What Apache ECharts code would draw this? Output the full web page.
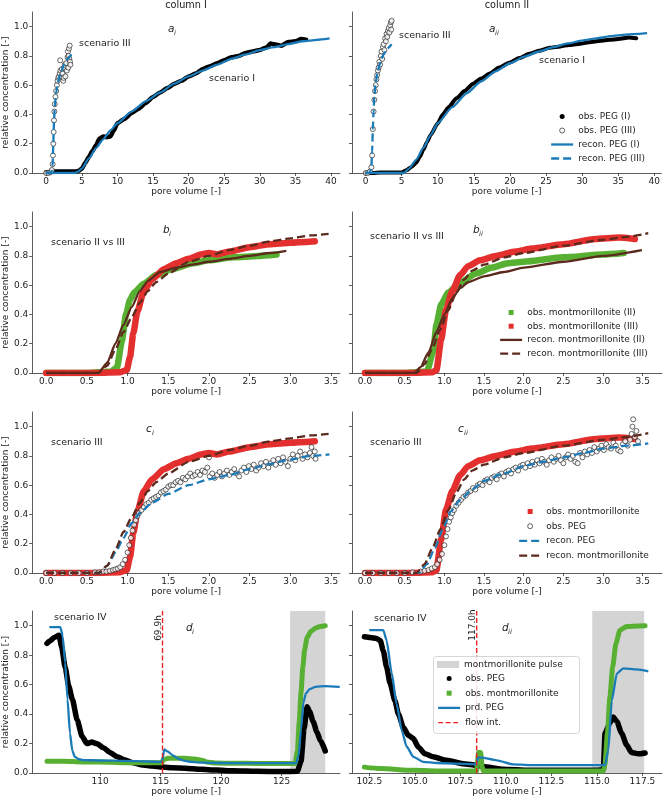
<!DOCTYPE html>
<html>
<head>
<meta charset="utf-8">
<script src="https://cdn.jsdelivr.net/npm/echarts@6/dist/echarts.min.js"></script>
<style>
html,body{margin:0;padding:0;background:#fff;}
#chart{width:663px;height:800px;}
</style>
</head>
<body>
<div id="chart"></div>
<script>
// ---------- data ----------
// panel a : PEG, scenario I and III
var pegObsI_c1 = [[0,0.005],[0.5,0.005],[0.8,0.01],[1.5,0.01],[2.5,0.01],[3.5,0.01],[4.2,0.01],[4.6,0.015],[5,0.03],[5.5,0.07],[6,0.11],[6.5,0.15],[7,0.19],[7.5,0.235],[8,0.25],[8.5,0.245],[9,0.25],[9.5,0.29],[10,0.34],[11,0.37],[12,0.41],[13,0.44],[14,0.48],[15,0.52],[16,0.55],[17,0.58],[18,0.61],[19,0.63],[20,0.66],[21,0.68],[22,0.71],[23,0.73],[24,0.75],[25,0.77],[26,0.79],[27,0.8],[28,0.82],[29,0.83],[30,0.84],[31,0.86],[31.5,0.885],[32,0.88],[33,0.87],[34,0.895],[35,0.9],[35.8,0.915],[36.5,0.91]];
var pegObsIII_c1 = [[0,0],[0.3,0],[0.6,0.005],[0.8,0.02],[0.9,0.06],[0.95,0.12],[1.0,0.2],[1.05,0.28],[1.1,0.36],[1.15,0.42],[1.2,0.47],[1.3,0.52],[1.4,0.56],[1.5,0.6],[1.6,0.63],[1.7,0.65],[1.8,0.66],[1.9,0.68],[1.97,0.77],[2.0,0.7],[2.1,0.66],[2.2,0.71],[2.3,0.68],[2.4,0.63],[2.45,0.65],[2.5,0.72],[2.6,0.74],[2.7,0.66],[2.8,0.75],[2.9,0.7],[3.0,0.79],[3.05,0.83],[3.1,0.72],[3.15,0.8],[3.2,0.85],[3.25,0.78],[3.3,0.87],[3.35,0.76],[3.4,0.74]];
var pegRecI_c1 = [[0,0],[4,0],[4.5,0.01],[5,0.03],[6,0.1],[7,0.17],[8,0.23],[9,0.29],[10,0.34],[12,0.42],[14,0.49],[16,0.55],[18,0.61],[20,0.66],[22,0.7],[24,0.74],[26,0.78],[28,0.81],[30,0.84],[32,0.86],[34,0.88],[36,0.9],[38,0.91],[39.8,0.92]];
var pegRecIII_c1 = [[0,0],[0.7,0],[0.9,0.05],[1.0,0.2],[1.1,0.35],[1.2,0.45],[1.4,0.55],[1.7,0.63],[2.0,0.68],[2.5,0.74],[3.0,0.78],[3.55,0.81]];

var pegObsI_c2 = [[0,0],[1,0],[2,0.003],[3,0.003],[4,0.003],[5,0.003],[5.7,0.02],[6.3,0.04],[7,0.07],[7.5,0.11],[8,0.16],[8.5,0.21],[9,0.26],[10,0.34],[10.7,0.4],[11.5,0.45],[12.6,0.51],[13.7,0.56],[14.9,0.61],[16,0.645],[17.2,0.68],[18.5,0.72],[20,0.755],[21.3,0.785],[22.7,0.815],[24,0.835],[25.5,0.855],[27,0.865],[28.2,0.875],[29.5,0.882],[31,0.893],[32.5,0.903],[33.8,0.91],[35,0.915],[36.5,0.925],[37.5,0.92]];
var pegObsIII_c2 = [[0,0],[0.3,0],[0.6,0.01],[0.8,0.04],[0.9,0.12],[1.0,0.3],[1.1,0.42],[1.2,0.5],[1.3,0.56],[1.4,0.6],[1.5,0.64],[1.6,0.67],[1.7,0.7],[1.8,0.72],[1.9,0.76],[2.0,0.74],[2.1,0.8],[2.2,0.83],[2.3,0.78],[2.4,0.86],[2.5,0.88],[2.6,0.84],[2.7,0.92],[2.8,0.9],[2.9,0.95],[3.0,0.93],[3.1,0.97],[3.2,0.99],[3.3,0.96],[3.4,1.01],[3.5,1.03],[3.55,0.98],[3.6,1.04]];
var pegRecI_c2 = [[0,0],[5.3,0],[6,0.03],[7,0.09],[8,0.17],[9,0.26],[10,0.34],[12,0.45],[14,0.545],[16,0.625],[18,0.695],[20,0.75],[22,0.795],[24,0.83],[26,0.86],[28,0.885],[30,0.905],[32,0.92],[34,0.935],[36,0.945],[39,0.955]];
var pegRecIII_c2 = [[0,0],[0.6,0],[0.8,0.05],[0.9,0.15],[1.0,0.3],[1.1,0.42],[1.2,0.52],[1.4,0.62],[1.7,0.7],[2.0,0.75],[2.5,0.81],[3.0,0.85],[3.6,0.88]];

// panel b : montmorillonite, scenario II and III
var montObsII_c1 = [[0,0],[0.5,0],[0.8,0.01],[0.87,0.04],[0.93,0.22],[0.98,0.4],[1.03,0.5],[1.08,0.55],[1.2,0.61],[1.35,0.67],[1.55,0.71],[1.8,0.75],[2.0,0.77],[2.3,0.79],[2.6,0.8],[2.83,0.81]];
var montObsIII_c1 = [[0,0],[0.5,0],[0.9,0.005],[0.99,0.02],[1.03,0.11],[1.07,0.27],[1.12,0.42],[1.2,0.56],[1.3,0.64],[1.45,0.71],[1.6,0.75],[1.75,0.78],[1.9,0.81],[2.0,0.82],[2.1,0.81],[2.25,0.83],[2.5,0.86],[2.75,0.88],[3.0,0.89],[3.3,0.9]];
var montRecII_c1 = [[0,0],[0.64,0],[0.75,0.07],[0.85,0.2],[0.95,0.33],[1.05,0.45],[1.15,0.56],[1.25,0.63],[1.4,0.69],[1.6,0.72],[1.8,0.74],[2.0,0.76],[2.25,0.78],[2.5,0.8],[2.75,0.82],[2.95,0.835]];
var montRecIII_c1 = [[0,0],[0.64,0],[0.75,0.05],[0.85,0.16],[0.95,0.28],[1.05,0.38],[1.15,0.48],[1.25,0.56],[1.35,0.62],[1.5,0.68],[1.75,0.76],[2.0,0.8],[2.25,0.84],[2.5,0.87],[2.75,0.9],[3.0,0.92],[3.25,0.94],[3.47,0.95]];

var montObsII_c2 = [[0,0],[0.5,0],[0.78,0.01],[0.86,0.15],[0.9,0.33],[0.96,0.47],[1.05,0.55],[1.2,0.62],[1.4,0.68],[1.6,0.72],[1.8,0.75],[2.0,0.76],[2.5,0.79],[3.0,0.81],[3.26,0.82]];
var montObsIII_c2 = [[0,0],[0.5,0],[0.85,0.005],[0.9,0.02],[0.96,0.23],[1.02,0.43],[1.1,0.56],[1.2,0.67],[1.3,0.73],[1.45,0.77],[1.65,0.8],[1.9,0.83],[2.1,0.85],[2.5,0.88],[2.9,0.915],[3.2,0.925],[3.4,0.915]];
var montRecII_c2 = [[0,0],[0.62,0],[0.7,0.04],[0.8,0.14],[0.9,0.28],[1.0,0.4],[1.1,0.51],[1.2,0.58],[1.3,0.62],[1.5,0.66],[1.75,0.69],[2.0,0.72],[2.5,0.76],[3.0,0.8],[3.49,0.84]];
var montRecIII_c2 = [[0,0],[0.65,0],[0.75,0.06],[0.85,0.17],[0.95,0.3],[1.05,0.43],[1.15,0.55],[1.25,0.64],[1.35,0.7],[1.5,0.74],[1.75,0.79],[2.0,0.82],[2.5,0.87],[3.0,0.91],[3.3,0.93],[3.57,0.955]];

// panel c : scenario III, PEG together with montmorillonite
var pegObsC_c1 = [[0.0,0.0],[0.1,0.0],[0.2,0.0],[0.3,0.0],[0.4,0.0],[0.5,0.0],[0.6,0.005],[0.65,0.005],[0.7,0.01],[0.74,0.01],[0.78,0.015],[0.82,0.02],[0.85,0.025],[0.88,0.03],[0.91,0.04],[0.94,0.06],[0.97,0.09],[1.0,0.14],[1.02,0.19],[1.04,0.24],[1.06,0.29],[1.08,0.33],[1.1,0.36],[1.12,0.39],[1.14,0.41],[1.17,0.43],[1.2,0.45],[1.23,0.47],[1.26,0.48],[1.29,0.5],[1.32,0.51],[1.35,0.52],[1.38,0.53],[1.41,0.55],[1.44,0.56],[1.47,0.57],[1.5,0.59],[1.53,0.6],[1.56,0.6],[1.59,0.62],[1.62,0.63],[1.65,0.62],[1.68,0.65],[1.71,0.64],[1.74,0.66],[1.77,0.68],[1.8,0.66],[1.83,0.67],[1.86,0.69],[1.89,0.67],[1.92,0.7],[1.95,0.69],[1.98,0.72],[2.0,0.79],[2.01,0.66],[2.04,0.68],[2.07,0.65],[2.1,0.67],[2.13,0.69],[2.16,0.66],[2.19,0.68],[2.22,0.7],[2.25,0.67],[2.28,0.69],[2.31,0.71],[2.34,0.68],[2.37,0.66],[2.4,0.7],[2.43,0.72],[2.46,0.69],[2.49,0.73],[2.52,0.71],[2.55,0.74],[2.58,0.7],[2.61,0.72],[2.64,0.75],[2.67,0.73],[2.7,0.76],[2.73,0.72],[2.76,0.75],[2.79,0.77],[2.82,0.74],[2.85,0.78],[2.88,0.75],[2.91,0.79],[2.94,0.76],[2.97,0.73],[3.0,0.78],[3.03,0.81],[3.06,0.77],[3.09,0.8],[3.12,0.83],[3.15,0.78],[3.18,0.81],[3.21,0.79],[3.24,0.82],[3.26,0.86],[3.28,0.8],[3.3,0.83],[3.31,0.78]];
var pegRecC_c1 = [[0,0],[0.65,0],[0.75,0.05],[0.85,0.14],[0.95,0.24],[1.05,0.34],[1.15,0.41],[1.3,0.48],[1.5,0.54],[1.75,0.6],[2.0,0.64],[2.25,0.67],[2.5,0.71],[2.75,0.745],[3.0,0.775],[3.25,0.8],[3.48,0.81]];

var pegObsC_c2 = [[0.0,0.0],[0.1,0.0],[0.2,0.0],[0.3,0.0],[0.4,0.0],[0.5,0.0],[0.6,0.005],[0.7,0.01],[0.75,0.015],[0.8,0.02],[0.84,0.03],[0.88,0.04],[0.91,0.06],[0.94,0.09],[0.97,0.13],[1.0,0.19],[1.02,0.25],[1.04,0.3],[1.06,0.35],[1.08,0.38],[1.1,0.41],[1.12,0.43],[1.15,0.46],[1.18,0.48],[1.21,0.5],[1.24,0.52],[1.27,0.53],[1.3,0.55],[1.33,0.56],[1.36,0.58],[1.39,0.57],[1.42,0.6],[1.45,0.61],[1.48,0.6],[1.51,0.63],[1.54,0.64],[1.57,0.62],[1.6,0.65],[1.63,0.66],[1.66,0.64],[1.69,0.67],[1.72,0.68],[1.75,0.66],[1.78,0.69],[1.81,0.7],[1.84,0.68],[1.87,0.71],[1.9,0.72],[1.93,0.7],[1.96,0.73],[1.99,0.74],[2.02,0.72],[2.05,0.75],[2.08,0.73],[2.11,0.76],[2.14,0.74],[2.17,0.77],[2.2,0.75],[2.23,0.78],[2.26,0.76],[2.29,0.74],[2.32,0.77],[2.35,0.79],[2.38,0.76],[2.41,0.78],[2.44,0.8],[2.47,0.77],[2.5,0.75],[2.53,0.79],[2.56,0.81],[2.59,0.78],[2.62,0.8],[2.65,0.76],[2.68,0.75],[2.71,0.82],[2.74,0.79],[2.77,0.83],[2.8,0.81],[2.83,0.84],[2.86,0.82],[2.89,0.86],[2.92,0.83],[2.95,0.85],[2.98,0.87],[3.01,0.84],[3.04,0.88],[3.07,0.86],[3.1,0.85],[3.13,0.89],[3.16,0.87],[3.19,0.84],[3.22,0.83],[3.25,0.88],[3.28,0.9],[3.31,0.87],[3.34,0.91],[3.36,0.95],[3.37,1.0],[3.38,1.05],[3.4,0.93],[3.42,0.97],[3.44,0.9]];
var pegRecC_c2 = [[0,0],[0.68,0],[0.78,0.06],[0.88,0.17],[0.98,0.3],[1.08,0.42],[1.2,0.5],[1.35,0.57],[1.5,0.63],[1.75,0.68],[2.0,0.73],[2.25,0.76],[2.5,0.79],[2.75,0.82],[3.0,0.85],[3.3,0.87],[3.57,0.885]];

// panel d : scenario IV, flow interruption and montmorillonite pulse
var pegObsD_c1 = [[105.6,0.88],[105.9,0.9],[106.2,0.92],[106.6,0.935],[106.8,0.86],[107.1,0.72],[107.4,0.59],[107.7,0.5],[108.1,0.36],[108.5,0.25],[108.9,0.2],[109.3,0.21],[109.7,0.2],[110.3,0.17],[110.8,0.14],[111.4,0.11],[112.0,0.09],[112.7,0.07],[113.5,0.055],[114.3,0.048],[115.15,0.04],[116.0,0.035],[117.0,0.033],[118.3,0.025],[119.6,0.02],[121.0,0.015],[123.0,0.012],[125.0,0.01],[126.3,0.012],[126.6,0.08],[126.85,0.3],[127.1,0.45],[127.3,0.42],[127.6,0.35],[127.9,0.28],[128.2,0.22],[128.6,0.15]];
var montObsD_c1 = [[105.6,0.08],[107.0,0.08],[108.5,0.075],[110.0,0.075],[112.0,0.07],[114.0,0.07],[115.1,0.07],[115.2,0.09],[115.6,0.1],[116.2,0.1],[117.0,0.1],[117.8,0.095],[118.5,0.085],[118.8,0.075],[119.5,0.068],[121.0,0.066],[123.0,0.065],[125.0,0.065],[126.1,0.065],[126.3,0.15],[126.45,0.35],[126.6,0.55],[126.75,0.72],[126.9,0.84],[127.1,0.92],[127.4,0.96],[127.8,0.985],[128.2,0.995],[128.6,1.0]];
var pegPrdD_c1 = [[105.8,0.99],[106.7,0.99],[106.9,0.93],[107.1,0.75],[107.3,0.5],[107.5,0.27],[107.7,0.15],[107.9,0.11],[108.2,0.095],[108.6,0.088],[110.0,0.085],[112.0,0.082],[114.0,0.078],[115.1,0.075],[115.3,0.16],[115.6,0.145],[116.0,0.12],[116.5,0.095],[117.0,0.082],[117.5,0.075],[118.5,0.07],[120.0,0.068],[122.0,0.067],[124.0,0.067],[126.2,0.067],[126.4,0.12],[126.6,0.3],[126.8,0.48],[127.0,0.54],[127.3,0.57],[127.8,0.585],[128.6,0.59],[129.8,0.585]];
var pulse_c1 = [125.7, 128.6];
var flowInt_c1 = 115.15;

var pegObsD_c2 = [[102.23,0.925],[102.54,0.92],[102.9,0.914],[103.1,0.9],[103.27,0.83],[103.45,0.72],[103.64,0.61],[103.91,0.49],[104.1,0.4],[104.37,0.31],[104.64,0.256],[104.92,0.234],[105.19,0.177],[105.56,0.13],[106.0,0.11],[106.75,0.086],[107.66,0.063],[108.4,0.052],[108.95,0.04],[109.86,0.025],[111.3,0.018],[113.16,0.018],[115.0,0.018],[115.36,0.023],[115.45,0.27],[115.72,0.34],[115.9,0.38],[116.1,0.35],[116.36,0.27],[116.64,0.19],[116.9,0.14],[117.28,0.13],[117.65,0.136]];
var montObsD_c2 = [[102.23,0.04],[103.1,0.03],[104.9,0.018],[106.75,0.014],[108.4,0.014],[108.43,0.06],[108.5,0.14],[108.62,0.14],[108.7,0.04],[108.77,0.014],[111.3,0.014],[115.36,0.014],[115.45,0.06],[115.58,0.27],[115.72,0.52],[115.87,0.72],[116.05,0.88],[116.27,0.97],[116.64,0.995],[117.65,1.0]];
var pegPrdD_c2 = [[102.5,0.97],[103.27,0.97],[103.45,0.9],[103.73,0.68],[104.0,0.47],[104.28,0.29],[104.55,0.18],[104.92,0.11],[105.47,0.075],[106.2,0.068],[108.4,0.059],[108.45,0.105],[108.67,0.105],[109.5,0.086],[110.4,0.059],[111.3,0.054],[115.45,0.054],[115.63,0.154],[115.82,0.49],[116.1,0.676],[116.46,0.71],[117.19,0.703],[117.83,0.69]];
var pulse_c2 = [114.75, 117.6];
var flowInt_c2 = 108.4;

// tick values
var ticksA = [0, 5, 10, 15, 20, 25, 30, 35, 40];
var ticksBC = [0, 0.5, 1, 1.5, 2, 2.5, 3, 3.5];
var ticksD1 = [110, 115, 120, 125];
var ticksD2 = [102.5, 105, 107.5, 110, 112.5, 115, 117.5];
var ticksY = [0, 0.2, 0.4, 0.6, 0.8, 1.0];
var yTop = 1.1;

// ---------- styling ----------
var FONT = 'DejaVu Sans';
var INK = '#222';
var BLUE = '#1b7bb8', RED = '#e3302f', GREEN = '#58b033', BROWN = '#5c2a1d', GRAY = '#d4d4d4';
var DASH = [8, 4];

var chart = echarts.init(document.getElementById('chart'));

var grids = [
  {left: 32, top: 12, width: 308, height: 161},
  {left: 352, top: 12, width: 310, height: 161},
  {left: 32, top: 212, width: 308, height: 161},
  {left: 352, top: 212, width: 310, height: 161},
  {left: 32, top: 412, width: 308, height: 161},
  {left: 352, top: 412, width: 310, height: 161},
  {left: 32, top: 611, width: 308, height: 162},
  {left: 352, top: 611, width: 310, height: 162}
];

function xAx(gi, min, max, ticks, dec) {
  return {
    type: 'value', gridIndex: gi, min: min, max: max,
    name: 'pore volume [-]', nameLocation: 'middle', nameGap: 14,
    nameTextStyle: {fontFamily: FONT, fontSize: 9, color: INK},
    axisLine: {show: true, onZero: false, lineStyle: {color: '#333', width: 0.8}},
    axisTick: {show: true, length: 3, customValues: ticks, lineStyle: {color: '#333', width: 0.8}},
    axisLabel: {customValues: ticks, margin: 4, fontFamily: FONT, fontSize: 9, color: INK,
      formatter: function (v) { return v.toFixed(dec); }},
    splitLine: {show: false}
  };
}
function yAx(gi, withLabels) {
  return {
    type: 'value', gridIndex: gi, min: 0, max: yTop,
    name: withLabels ? 'relative concentration [-]' : '', nameLocation: 'middle', nameGap: 19,
    nameTextStyle: {fontFamily: FONT, fontSize: 9, color: INK},
    axisLine: {show: true, onZero: false, lineStyle: {color: '#333', width: 0.8}},
    axisTick: {show: true, length: 3, customValues: ticksY, lineStyle: {color: '#333', width: 0.8}},
    axisLabel: {show: withLabels, customValues: ticksY, margin: 4, fontFamily: FONT, fontSize: 9, color: INK,
      formatter: function (v) { return v.toFixed(1); }},
    splitLine: {show: false}
  };
}

var xAxes = [
  xAx(0, -1.96, 41.26, ticksA, 0), xAx(1, -1.89, 40.97, ticksA, 0),
  xAx(2, -0.172, 3.61, ticksBC, 1), xAx(3, -0.164, 3.743, ticksBC, 1),
  xAx(4, -0.172, 3.61, ticksBC, 1), xAx(5, -0.164, 3.743, ticksBC, 1),
  xAx(6, 104.38, 129.82, ticksD1, 0), xAx(7, 101.55, 118.58, ticksD2, 1)
];
var yAxes = [];
for (var g = 0; g < 8; g++) yAxes.push(yAx(g, g % 2 === 0));

// thick band of observed points
function band(name, data, gi, color, w) {
  return {type: 'line', name: name, data: data, xAxisIndex: gi, yAxisIndex: gi, color: color,
    symbol: 'none', smooth: 0.2, smoothMonotone: 'x', z: 2,
    lineStyle: {color: color, width: w, cap: 'round', join: 'round'}};
}
function curve(name, data, gi, color, dashed) {
  return {type: 'line', name: name, data: data, xAxisIndex: gi, yAxisIndex: gi, color: color,
    symbol: 'none', smooth: 0.2, smoothMonotone: 'x', z: 4,
    lineStyle: {color: color, width: 2.3, type: dashed ? DASH : 'solid'}};
}
function rings(name, data, gi) {
  return {type: 'scatter', name: name, data: data, xAxisIndex: gi, yAxisIndex: gi, z: 3,
    symbol: 'circle', symbolSize: 5,
    itemStyle: {color: '#fff', borderColor: '#111', borderWidth: 0.8}};
}
function pulse(name, range, gi) {
  return {type: 'line', name: name, xAxisIndex: gi, yAxisIndex: gi, color: GRAY, z: 1,
    data: [[range[0], yTop], [range[1], yTop]], symbol: 'none',
    lineStyle: {width: 0}, areaStyle: {color: GRAY, opacity: 1}};
}
function flow(name, xv, gi) {
  return {type: 'line', name: name, xAxisIndex: gi, yAxisIndex: gi, color: '#ee2222', z: 5,
    data: [[xv, 0], [xv, yTop]], symbol: 'none',
    lineStyle: {color: '#ee2222', width: 1.4, type: [5, 2.5]}};
}

var series = [
  // a
  band('obs. PEG (I)', pegObsI_c1, 0, '#000', 4.5),
  rings('obs. PEG (III)', pegObsIII_c1, 0),
  curve('recon. PEG (I)', pegRecI_c1, 0, BLUE, false),
  curve('recon. PEG (III)', pegRecIII_c1, 0, BLUE, true),
  band('obs. PEG (I)', pegObsI_c2, 1, '#000', 4),
  rings('obs. PEG (III)', pegObsIII_c2, 1),
  curve('recon. PEG (I)', pegRecI_c2, 1, BLUE, false),
  curve('recon. PEG (III)', pegRecIII_c2, 1, BLUE, true),
  // b
  band('obs. montmorillonite (II)', montObsII_c1, 2, GREEN, 6.5),
  band('obs. montmorillonite (III)', montObsIII_c1, 2, RED, 6.5),
  curve('recon. montmorillonite (II)', montRecII_c1, 2, BROWN, false),
  curve('recon. montmorillonite (III)', montRecIII_c1, 2, BROWN, true),
  band('obs. montmorillonite (II)', montObsII_c2, 3, GREEN, 6.5),
  band('obs. montmorillonite (III)', montObsIII_c2, 3, RED, 6.5),
  curve('recon. montmorillonite (II)', montRecII_c2, 3, BROWN, false),
  curve('recon. montmorillonite (III)', montRecIII_c2, 3, BROWN, true),
  // c
  band('obs. montmorillonite#c', montObsIII_c1, 4, RED, 6.5),
  rings('obs. PEG#c', pegObsC_c1, 4),
  curve('recon. PEG', pegRecC_c1, 4, BLUE, true),
  curve('recon. montmorillonite', montRecIII_c1, 4, BROWN, true),
  band('obs. montmorillonite#c', montObsIII_c2, 5, RED, 6.5),
  rings('obs. PEG#c', pegObsC_c2, 5),
  curve('recon. PEG', pegRecC_c2, 5, BLUE, true),
  curve('recon. montmorillonite', montRecIII_c2, 5, BROWN, true),
  // d
  pulse('montmorillonite pulse', pulse_c1, 6),
  band('obs. PEG#d', pegObsD_c1, 6, '#000', 5.5),
  band('obs. montmorillonite#d', montObsD_c1, 6, GREEN, 5),
  curve('prd. PEG', pegPrdD_c1, 6, BLUE, false),
  flow('flow int.', flowInt_c1, 6),
  pulse('montmorillonite pulse', pulse_c2, 7),
  band('obs. PEG#d', pegObsD_c2, 7, '#000', 5.5),
  band('obs. montmorillonite#d', montObsD_c2, 7, GREEN, 5),
  curve('prd. PEG', pegPrdD_c2, 7, BLUE, false),
  flow('flow int.', flowInt_c2, 7)
];

// legend helpers
var SQUARE = 'path://M0,0h10v10h-10z';
var noSym = {opacity: 0};
function legend(left, top, data, gap, h) {
  return {
    orient: 'vertical', left: left, top: top, itemWidth: 22, itemHeight: h || 5, itemGap: gap,
    selectedMode: false, z: 10, padding: 0,
    textStyle: {fontFamily: FONT, fontSize: 9, color: INK, lineHeight: 11},
    itemStyle: {borderWidth: 'inherit'}, lineStyle: {width: 'inherit'},
    formatter: function (n) { return n.split('#')[0]; },
    data: data
  };
}
var legends = [
  legend(550, 111, [
    {name: 'obs. PEG (I)', icon: 'circle', itemStyle: {borderWidth: 0}},
    {name: 'obs. PEG (III)'},
    {name: 'recon. PEG (I)', itemStyle: noSym},
    {name: 'recon. PEG (III)', itemStyle: noSym}
  ], 3),
  legend(499, 307, [
    {name: 'obs. montmorillonite (II)', icon: SQUARE, itemStyle: {borderWidth: 0}},
    {name: 'obs. montmorillonite (III)', icon: SQUARE, itemStyle: {borderWidth: 0}},
    {name: 'recon. montmorillonite (II)', itemStyle: noSym},
    {name: 'recon. montmorillonite (III)', itemStyle: noSym}
  ], 2.7),
  legend(518, 506, [
    {name: 'obs. montmorillonite#c', icon: SQUARE, itemStyle: {borderWidth: 0}},
    {name: 'obs. PEG#c'},
    {name: 'recon. PEG', itemStyle: noSym},
    {name: 'recon. montmorillonite', itemStyle: noSym}
  ], 3.7),
  legend(437, 659, [
    {name: 'montmorillonite pulse', icon: 'rect', itemStyle: {borderWidth: 0}}
  ], 3, 7),
  legend(437, 673, [
    {name: 'obs. PEG#d', icon: 'circle', itemStyle: {borderWidth: 0}},
    {name: 'obs. montmorillonite#d', icon: SQUARE, itemStyle: {borderWidth: 0}},
    {name: 'prd. PEG', itemStyle: noSym},
    {name: 'flow int.', itemStyle: noSym}
  ], 3.7)
];

// text annotations
function txt(s, x, y, size, opts) {
  opts = opts || {};
  return {type: 'text', x: x, y: y, rotation: opts.rot || 0, z: 20,
    style: {text: s, fontFamily: FONT, fontSize: size, fontStyle: opts.italic ? 'italic' : 'normal',
      fill: INK, align: opts.align || 'left', verticalAlign: 'middle'}};
}
function panelTag(letter, sub, x, y) {
  return [txt(letter, x, y, 10.5, {italic: true}), txt(sub, x + 6, y + 4, 7, {italic: true})];
}
var graphics = [
  txt('column I', 186, 5, 9.7, {align: 'center'}),
  txt('column II', 507, 5, 9.7, {align: 'center'}),
  txt('scenario III', 79, 44, 9.5),
  txt('scenario I', 209, 79, 9.5),
  txt('scenario III', 399, 36, 9.5),
  txt('scenario I', 539, 61, 9.5),
  txt('scenario II vs III', 51, 243, 9.5),
  txt('scenario II vs III', 370, 237, 9.5),
  txt('scenario III', 51, 443, 9.5),
  txt('scenario III', 370, 443, 9.5),
  txt('scenario IV', 54, 618, 9.5),
  txt('scenario IV', 374, 619, 9.5),
  txt('69.9h', 158.5, 628, 9, {rot: Math.PI / 2, align: 'center'}),
  txt('117.0h', 473, 625, 9, {rot: Math.PI / 2, align: 'center'}),
  {type: 'rect', z: 8, shape: {x: 433.5, y: 656.5, width: 146, height: 77, r: 3},
    style: {fill: 'rgba(255,255,255,0.85)', stroke: '#cccccc', lineWidth: 0.8}}
].concat(
  panelTag('a', 'i', 168, 29.5), panelTag('a', 'ii', 489, 29.5),
  panelTag('b', 'i', 163, 230), panelTag('b', 'ii', 473, 230),
  panelTag('c', 'i', 146, 429), panelTag('c', 'ii', 458, 429),
  panelTag('d', 'i', 186, 628), panelTag('d', 'ii', 502, 628)
);

chart.setOption({
  animation: false,
  backgroundColor: '#fff',
  grid: grids,
  xAxis: xAxes,
  yAxis: yAxes,
  legend: legends,
  series: series,
  graphic: graphics
});
</script>
</body>
</html>
